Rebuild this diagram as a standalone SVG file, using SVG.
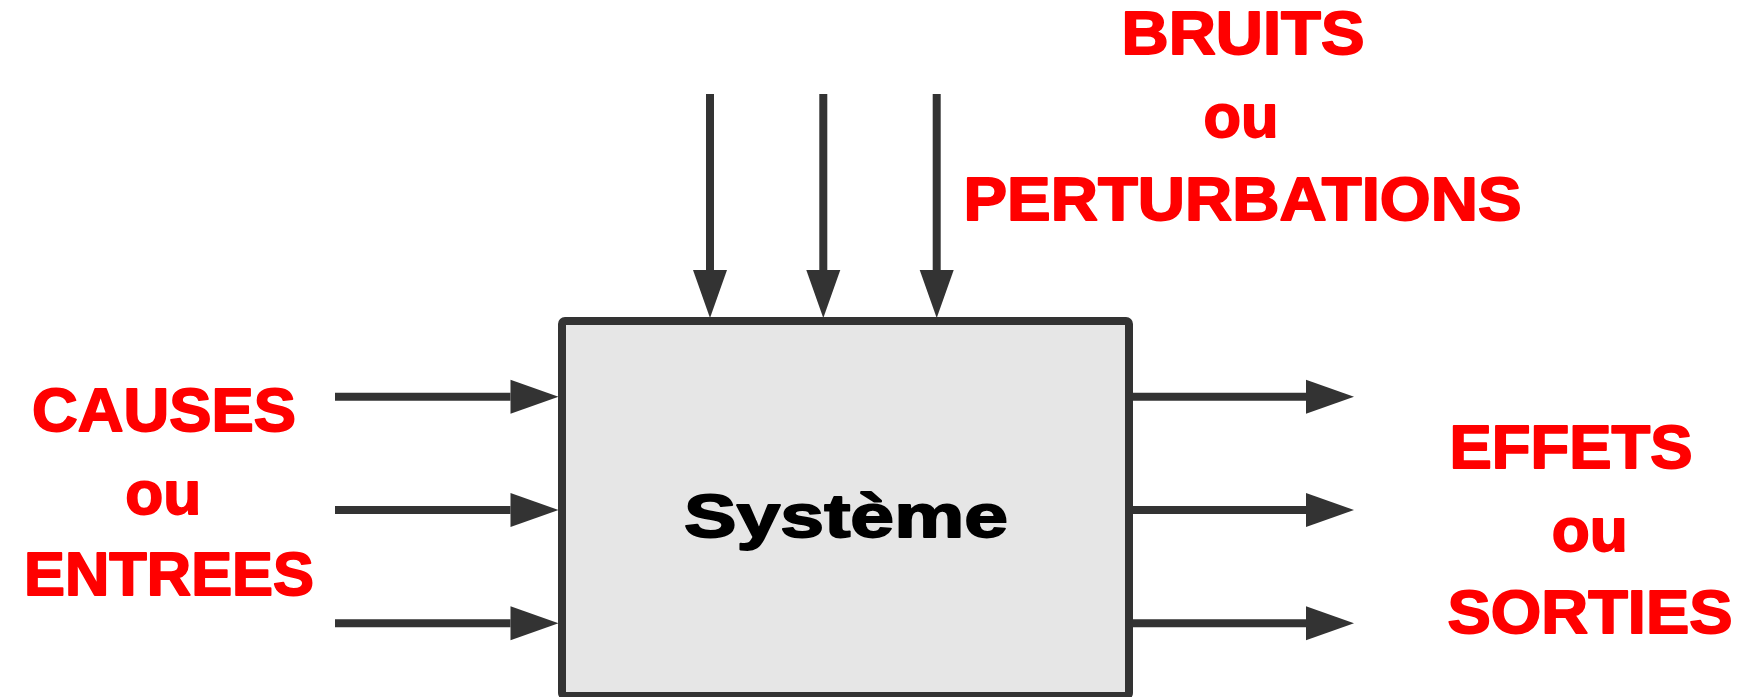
<svg xmlns="http://www.w3.org/2000/svg" width="1737" height="697" viewBox="0 0 1737 697">
<defs>
<style>
.lbl{font-family:"Liberation Sans",Arial,sans-serif;font-weight:bold;font-size:62px;fill:#ff0000;stroke:#ff0000;stroke-width:1.8px;stroke-linejoin:round;text-anchor:middle}
.sys{font-family:"Liberation Sans",Arial,sans-serif;font-weight:bold;font-size:62px;fill:#000000;stroke:#000000;stroke-width:1.8px;stroke-linejoin:round;text-anchor:middle}
.box{fill:#e6e6e6;stroke:#333333;stroke-width:8}
.con{stroke:#333333;stroke-width:8;fill:none;marker-end:url(#arr)}
</style>
<marker id="arr" markerUnits="userSpaceOnUse" markerWidth="48" markerHeight="34" refX="0" refY="17" orient="auto" overflow="visible">
<path d="M0,0 L48,17 L0,34 Z" fill="#333333"/>
</marker>
</defs>
<rect width="1737" height="697" fill="#ffffff"/>
<g id="systeme">
<rect class="box" x="562" y="321" width="567" height="375" rx="3"/>
<text class="sys" x="846" y="536.5" textLength="324" lengthAdjust="spacingAndGlyphs">Système</text>
</g>
<g id="connectors">
<path class="con" d="M710,94 V270"/>
<path class="con" d="M823.3,94 V270"/>
<path class="con" d="M936.7,94 V270"/>
<path class="con" d="M335,396.7 H510.5"/>
<path class="con" d="M335,510 H510.5"/>
<path class="con" d="M335,623.3 H510.5"/>
<path class="con" d="M1129,396.7 H1306"/>
<path class="con" d="M1129,510 H1306"/>
<path class="con" d="M1129,623.3 H1306"/>
</g>
<g id="bruits">
<text class="lbl" x="1243" y="53.8" textLength="243" lengthAdjust="spacingAndGlyphs">BRUITS</text>
<text class="lbl" x="1241" y="136.8" textLength="75" lengthAdjust="spacingAndGlyphs">ou</text>
<text class="lbl" x="1242.5" y="220.3" textLength="558" lengthAdjust="spacingAndGlyphs">PERTURBATIONS</text>
</g>
<g id="causes">
<text class="lbl" x="164" y="431.3" textLength="264" lengthAdjust="spacingAndGlyphs">CAUSES</text>
<text class="lbl" x="163.3" y="513.8" textLength="76" lengthAdjust="spacingAndGlyphs">ou</text>
<text class="lbl" x="169" y="595.3" textLength="290" lengthAdjust="spacingAndGlyphs">ENTREES</text>
</g>
<g id="effets">
<text class="lbl" x="1571" y="467.8" textLength="243" lengthAdjust="spacingAndGlyphs">EFFETS</text>
<text class="lbl" x="1589.7" y="551.3" textLength="76" lengthAdjust="spacingAndGlyphs">ou</text>
<text class="lbl" x="1590" y="632.8" textLength="285" lengthAdjust="spacingAndGlyphs">SORTIES</text>
</g>
</svg>
